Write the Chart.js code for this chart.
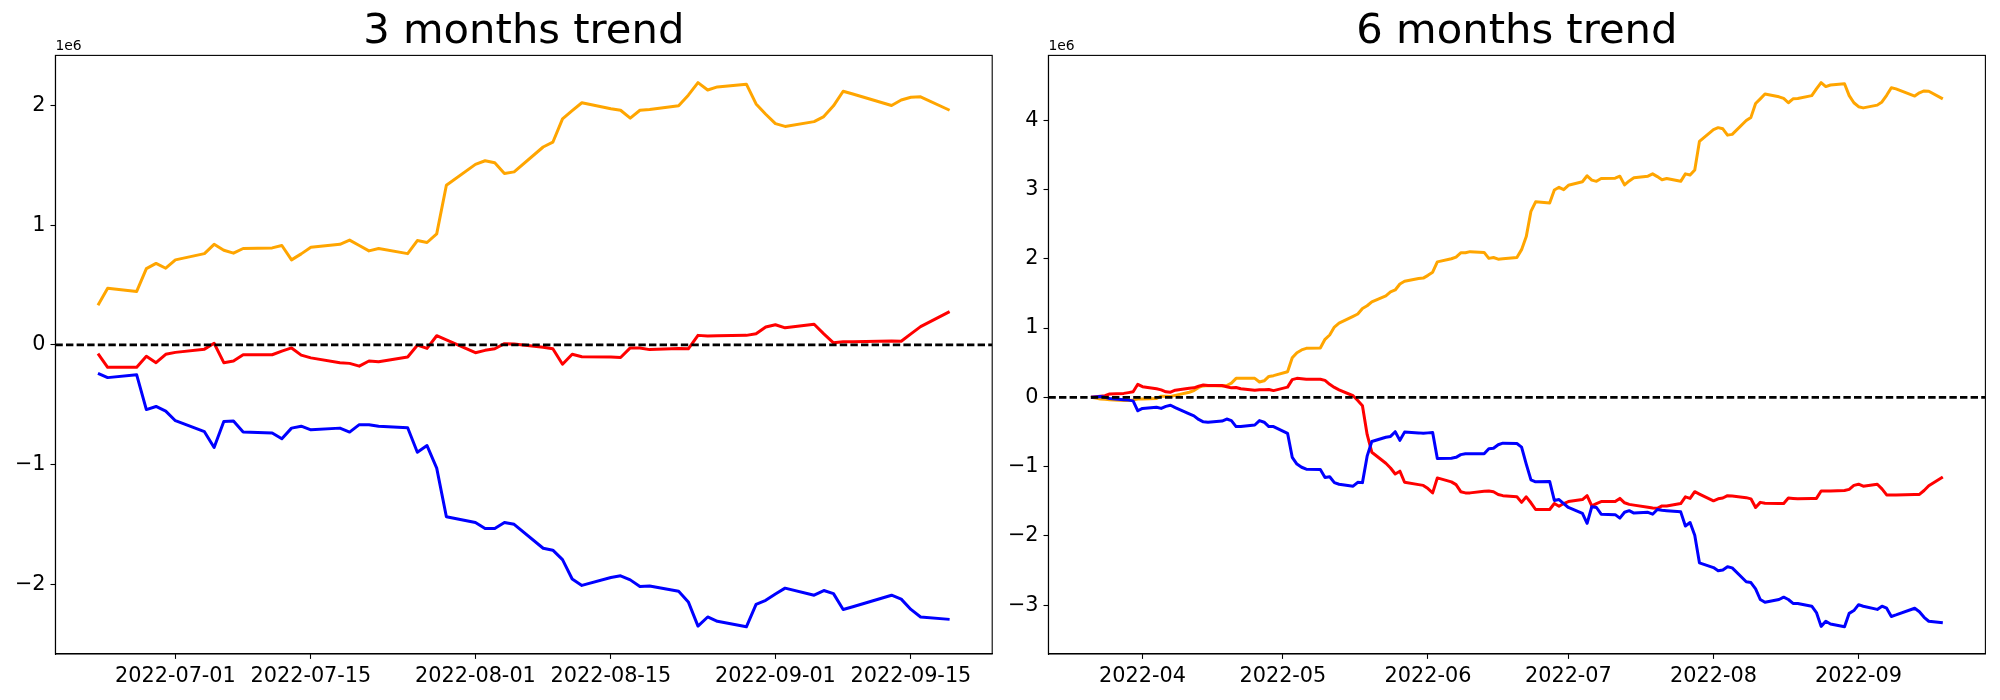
<!DOCTYPE html>
<html>
<head>
<meta charset="utf-8">
<script src="https://cdn.jsdelivr.net/npm/chart.js@4/dist/chart.umd.min.js"></script>
<style>
  body { margin: 0; background: #fff; }
  #wrap { position: relative; width: 2000px; height: 700px; }
  canvas { position: absolute; top: 0; }
</style>
</head>
<body>
<div id="wrap">
  <canvas id="c3" width="1000" height="700" style="left:0;width:1000px;height:700px"></canvas>
  <canvas id="c6" width="1000" height="700" style="left:1000px;width:1000px;height:700px"></canvas>
</div>
<script>
// ---- 3 months (values in 1e6) ----
var dates3 = ['2022-06-23','2022-06-24','2022-06-27','2022-06-28','2022-06-29','2022-06-30',
  '2022-07-01','2022-07-04','2022-07-05','2022-07-06','2022-07-07','2022-07-08','2022-07-11','2022-07-12',
  '2022-07-13','2022-07-14','2022-07-15','2022-07-18','2022-07-19','2022-07-20','2022-07-21','2022-07-22',
  '2022-07-25','2022-07-26','2022-07-27','2022-07-28','2022-07-29','2022-08-01','2022-08-02','2022-08-03',
  '2022-08-04','2022-08-05','2022-08-08','2022-08-09','2022-08-10','2022-08-11','2022-08-12','2022-08-15',
  '2022-08-16','2022-08-17','2022-08-18','2022-08-19','2022-08-22','2022-08-23','2022-08-24','2022-08-25',
  '2022-08-26','2022-08-29','2022-08-30','2022-08-31','2022-09-01','2022-09-02','2022-09-05','2022-09-06',
  '2022-09-07','2022-09-08','2022-09-09','2022-09-13','2022-09-14','2022-09-15','2022-09-16','2022-09-19']
var orange3 = [0.33,0.472,0.446,0.637,0.68,0.64,
  0.71,0.762,0.84,0.79,0.766,0.805,0.81,0.83,
  0.71,0.76,0.815,0.84,0.875,0.83,0.785,0.805,
  0.762,0.871,0.855,0.927,1.333,1.508,1.538,1.521,
  1.432,1.445,1.653,1.693,1.888,1.957,2.023,1.973,
  1.96,1.894,1.96,1.967,1.997,2.086,2.191,2.129,
  2.155,2.178,2.013,1.927,1.848,1.825,1.865,1.907,
  1.997,2.119,2.096,2.0,2.046,2.069,2.072,1.96]
var red3 = [-0.073,-0.188,-0.188,-0.096,-0.149,-0.079,
  -0.063,-0.036,0.013,-0.149,-0.135,-0.083,-0.083,-0.053,
  -0.026,-0.086,-0.109,-0.149,-0.155,-0.178,-0.135,-0.142,
  -0.102,-0.003,-0.03,0.076,0.042,-0.066,-0.046,-0.033,
  0.01,0.007,-0.02,-0.033,-0.162,-0.079,-0.099,-0.102,
  -0.106,-0.026,-0.026,-0.04,-0.03,-0.033,0.079,0.073,
  0.076,0.079,0.092,0.149,0.168,0.142,0.172,0.092,
  0.017,0.026,0.026,0.033,0.03,0.092,0.152,0.277]
var blue3 = [-0.238,-0.274,-0.251,-0.541,-0.515,-0.554,
  -0.634,-0.726,-0.858,-0.64,-0.637,-0.729,-0.736,-0.785,
  -0.696,-0.68,-0.71,-0.696,-0.729,-0.667,-0.667,-0.68,
  -0.693,-0.898,-0.842,-1.03,-1.436,-1.485,-1.535,-1.535,
  -1.485,-1.5,-1.7,-1.716,-1.795,-1.957,-2.01,-1.944,
  -1.93,-1.964,-2.02,-2.016,-2.059,-2.148,-2.35,-2.274,
  -2.31,-2.356,-2.168,-2.135,-2.082,-2.033,-2.092,-2.053,
  -2.079,-2.211,-2.188,-2.092,-2.125,-2.211,-2.274,-2.294]
var xTicks3 = ['2022-07-01','2022-07-15','2022-08-01','2022-08-15','2022-09-01','2022-09-15']
var yTicks3 = [-2,-1,0,1,2]

// ---- 6 months (values in 1e6) ----
var dates6 = ['2022-03-21','2022-03-22','2022-03-23','2022-03-24','2022-03-25','2022-03-28','2022-03-29',
  '2022-03-30','2022-03-31','2022-04-01','2022-04-04','2022-04-05','2022-04-06','2022-04-07','2022-04-08',
  '2022-04-11','2022-04-12','2022-04-13','2022-04-14','2022-04-15','2022-04-18','2022-04-19','2022-04-20',
  '2022-04-21','2022-04-22','2022-04-25','2022-04-26','2022-04-27','2022-04-28','2022-04-29','2022-05-02',
  '2022-05-03','2022-05-04','2022-05-05','2022-05-06','2022-05-09','2022-05-10','2022-05-11','2022-05-12',
  '2022-05-13','2022-05-16','2022-05-17','2022-05-18','2022-05-19','2022-05-20','2022-05-23','2022-05-24',
  '2022-05-25','2022-05-26','2022-05-27','2022-05-30','2022-05-31','2022-06-01','2022-06-02','2022-06-03',
  '2022-06-06','2022-06-07','2022-06-08','2022-06-09','2022-06-10','2022-06-13','2022-06-14','2022-06-15',
  '2022-06-16','2022-06-17','2022-06-20','2022-06-21','2022-06-22','2022-06-23','2022-06-24','2022-06-27',
  '2022-06-28','2022-06-29','2022-06-30','2022-07-01','2022-07-04','2022-07-05','2022-07-06','2022-07-07',
  '2022-07-08','2022-07-11','2022-07-12','2022-07-13','2022-07-14','2022-07-15','2022-07-18','2022-07-19',
  '2022-07-20','2022-07-21','2022-07-22','2022-07-25','2022-07-26','2022-07-27','2022-07-28','2022-07-29',
  '2022-08-01','2022-08-02','2022-08-03','2022-08-04','2022-08-05','2022-08-08','2022-08-09','2022-08-10',
  '2022-08-11','2022-08-12','2022-08-15','2022-08-16','2022-08-17','2022-08-18','2022-08-19','2022-08-22',
  '2022-08-23','2022-08-24','2022-08-25','2022-08-26','2022-08-29','2022-08-30','2022-08-31','2022-09-01',
  '2022-09-02','2022-09-05','2022-09-06','2022-09-07','2022-09-08','2022-09-09','2022-09-13','2022-09-14',
  '2022-09-15','2022-09-16','2022-09-19']
var orange6 = [0,-0.011,-0.023,-0.028,-0.034,-0.046,-0.046,
  -0.04,-0.023,-0.023,-0.017,0.017,0.017,0.011,0.028,
  0.074,0.097,0.143,0.165,0.171,0.165,0.171,0.205,
  0.274,0.274,0.274,0.222,0.239,0.302,0.313,0.37,
  0.57,0.644,0.684,0.707,0.713,0.838,0.9,1.015,
  1.072,1.169,1.203,1.283,1.322,1.379,1.465,1.522,
  1.55,1.636,1.676,1.716,1.721,1.761,1.807,1.955,
  2.0,2.024,2.086,2.086,2.103,2.092,2.006,2.018,
  1.995,2.0,2.018,2.132,2.32,2.685,2.822,2.804,
  2.993,3.032,2.998,3.061,3.112,3.198,3.135,3.118,
  3.158,3.164,3.192,3.067,3.124,3.169,3.192,3.226,
  3.186,3.141,3.158,3.118,3.226,3.209,3.283,3.694,
  3.865,3.893,3.876,3.785,3.796,3.996,4.041,4.241,
  4.309,4.378,4.338,4.315,4.252,4.309,4.315,4.355,
  4.452,4.543,4.486,4.509,4.526,4.355,4.252,4.195,
  4.178,4.218,4.264,4.36,4.469,4.452,4.349,4.395,
  4.423,4.418,4.309]
var red6 = [0,0.01,0.017,0.023,0.05,0.057,0.068,
  0.08,0.188,0.154,0.125,0.108,0.08,0.074,0.103,
  0.131,0.137,0.16,0.177,0.171,0.171,0.154,0.137,
  0.143,0.125,0.103,0.108,0.108,0.114,0.097,0.148,
  0.256,0.274,0.268,0.262,0.262,0.245,0.188,0.143,
  0.108,0.023,-0.046,-0.12,-0.536,-0.792,-0.952,-1.02,
  -1.106,-1.066,-1.226,-1.26,-1.271,-1.317,-1.379,-1.163,
  -1.22,-1.26,-1.362,-1.379,-1.379,-1.357,-1.351,-1.362,
  -1.402,-1.419,-1.436,-1.516,-1.436,-1.522,-1.619,-1.619,
  -1.533,-1.573,-1.533,-1.505,-1.476,-1.419,-1.567,-1.533,
  -1.505,-1.505,-1.459,-1.522,-1.545,-1.556,-1.585,-1.596,
  -1.602,-1.567,-1.567,-1.533,-1.436,-1.459,-1.362,-1.396,
  -1.493,-1.465,-1.453,-1.419,-1.425,-1.448,-1.465,-1.59,
  -1.516,-1.528,-1.533,-1.533,-1.453,-1.459,-1.465,-1.459,
  -1.459,-1.351,-1.351,-1.351,-1.345,-1.328,-1.271,-1.254,
  -1.283,-1.254,-1.322,-1.408,-1.408,-1.408,-1.402,-1.402,
  -1.345,-1.277,-1.151]
var blue6 = [0,0.006,0.011,0,-0.017,-0.034,-0.04,
  -0.051,-0.194,-0.16,-0.142,-0.16,-0.131,-0.114,-0.148,
  -0.239,-0.268,-0.319,-0.353,-0.359,-0.342,-0.313,-0.336,
  -0.422,-0.422,-0.399,-0.336,-0.359,-0.422,-0.422,-0.519,
  -0.866,-0.963,-1.009,-1.037,-1.043,-1.157,-1.146,-1.231,
  -1.254,-1.283,-1.226,-1.231,-0.849,-0.638,-0.576,-0.564,
  -0.496,-0.621,-0.502,-0.513,-0.519,-0.513,-0.507,-0.884,
  -0.878,-0.866,-0.827,-0.815,-0.815,-0.815,-0.741,-0.735,
  -0.684,-0.661,-0.667,-0.718,-0.963,-1.191,-1.22,-1.214,
  -1.488,-1.476,-1.533,-1.59,-1.676,-1.818,-1.579,-1.59,
  -1.687,-1.693,-1.744,-1.659,-1.636,-1.67,-1.659,-1.687,
  -1.619,-1.63,-1.636,-1.653,-1.858,-1.807,-1.99,-2.389,
  -2.457,-2.502,-2.491,-2.445,-2.462,-2.662,-2.673,-2.764,
  -2.918,-2.958,-2.918,-2.884,-2.918,-2.975,-2.975,-3.015,
  -3.106,-3.306,-3.232,-3.272,-3.312,-3.118,-3.078,-2.993,
  -3.015,-3.061,-3.015,-3.044,-3.163,-3.141,-3.044,-3.095,
  -3.175,-3.232,-3.255]
var xTicks6 = ['2022-04','2022-05','2022-06','2022-07','2022-08','2022-09']
var yTicks6 = [-3,-2,-1,0,1,2,3,4]

var FONT = "'DejaVu Sans'"

function toDay(s) {
  return Date.parse(s) / 86400000
}

function pts(dates, vals) {
  return dates.map(function(d, i) { return {x: toDay(d), y: vals[i]} })
}

function fmtY(v) {
  return v < 0 ? '\u2212' + Math.abs(v) : String(v)
}

// spines on all four sides + the "1e6" offset label
var frame = {
  id: 'frame',
  afterDraw: function(chart) {
    var a = chart.chartArea, ctx = chart.ctx
    ctx.save()
    ctx.strokeStyle = '#000'
    ctx.lineWidth = 1.1
    ctx.strokeRect(a.left, a.top, a.right - a.left, a.bottom - a.top)
    ctx.fillStyle = '#000'
    ctx.font = '13.9px ' + FONT
    ctx.textAlign = 'left'
    ctx.textBaseline = 'alphabetic'
    ctx.fillText('1e6', a.left, a.top - 5)
    ctx.restore()
  }
}

function makeChart(id, title, dates, orange, red, blue, xTicks, xTickDates, yTicks, yWidth, rightPad) {
  var first = toDay(dates[0]), last = toDay(dates[dates.length - 1])
  var xmin = first - 0.05 * (last - first), xmax = last + 0.05 * (last - first)
  var all = orange.concat(red, blue)
  var lo = Math.min.apply(null, all), hi = Math.max.apply(null, all)
  var ymin = lo - 0.05 * (hi - lo), ymax = hi + 0.05 * (hi - lo)
  var xVals = xTickDates.map(toDay)

  return new Chart(document.getElementById(id).getContext('2d'), {
    type: 'line',
    data: {
      datasets: [
        { data: [{x: xmin, y: 0}, {x: xmax, y: 0}], borderColor: '#000000', borderDash: [7.4, 3.2], borderWidth: 2.8 },
        { data: pts(dates, blue), borderColor: '#0000ff' },
        { data: pts(dates, red), borderColor: '#ff0000' },
        { data: pts(dates, orange), borderColor: '#ffa500' }
      ]
    },
    options: {
      responsive: false,
      animation: false,
      devicePixelRatio: 1,
      elements: {
        point: { radius: 0 },
        line: { tension: 0, borderWidth: 3, borderJoinStyle: 'round', fill: false }
      },
      layout: { padding: { left: 0, right: rightPad, top: 0, bottom: 0 } },
      plugins: {
        legend: { display: false },
        tooltip: { enabled: false },
        title: {
          display: true, text: title, fullSize: false, color: '#000',
          font: { family: FONT, size: 41.7, weight: 'normal', lineHeight: 1 },
          padding: { top: 11.3, bottom: 2.4 }
        }
      },
      scales: {
        x: {
          type: 'linear', min: xmin, max: xmax,
          afterFit: function(s) { s.height = 46 },
          afterBuildTicks: function(s) { s.ticks = xVals.map(function(v) { return {value: v} }) },
          ticks: {
            autoSkip: false, maxRotation: 0, color: '#000', padding: 4.9,
            font: { family: FONT, size: 20.8 },
            callback: function(v, i) { return xTicks[i] }
          },
          grid: { drawOnChartArea: false, tickLength: 4.9, tickWidth: 1.1, tickColor: '#000' },
          border: { color: '#000', width: 1.1 }
        },
        y: {
          min: ymin, max: ymax,
          afterFit: function(s) { s.width = yWidth },
          afterBuildTicks: function(s) { s.ticks = yTicks.map(function(v) { return {value: v} }) },
          ticks: {
            color: '#000', padding: 4.9,
            font: { family: FONT, size: 20.8 },
            callback: function(v) { return fmtY(v) }
          },
          grid: { drawOnChartArea: false, tickLength: 4.9, tickWidth: 1.1, tickColor: '#000' },
          border: { color: '#000', width: 1.1 }
        }
      }
    },
    plugins: [frame]
  })
}

makeChart('c3', '3 months trend', dates3, orange3, red3, blue3,
  xTicks3, xTicks3, yTicks3, 55.4, 7.8)
makeChart('c6', '6 months trend', dates6, orange6, red6, blue6,
  xTicks6, xTicks6.map(function(m) { return m + '-01' }), yTicks6, 48.4, 14.6)
</script>
</body>
</html>
